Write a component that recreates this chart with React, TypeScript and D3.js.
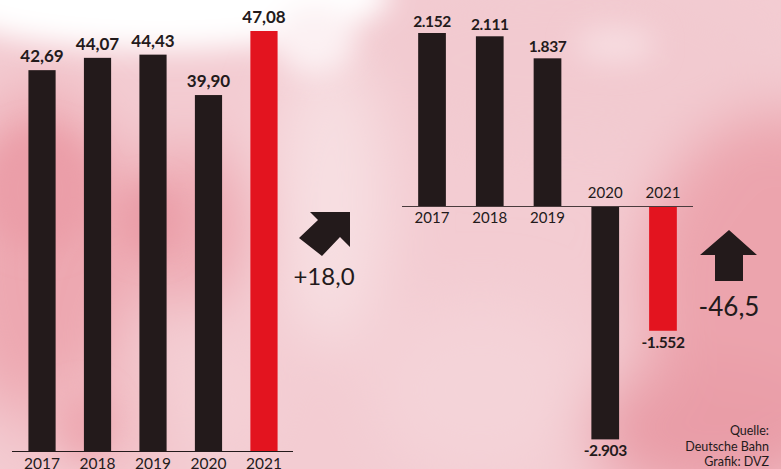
import React from "react";
import * as d3 from "d3";

const W = 781, H = 469;
const leftYears = ["2017", "2018", "2019", "2020", "2021"];
const leftValues = [42.69, 44.07, 44.43, 39.9, 47.08];
const leftLabels = ["42,69", "44,07", "44,43", "39,90", "47,08"];
const rightYears = ["2017", "2018", "2019", "2020", "2021"];
const rightValues = [2152, 2111, 1837, -2903, -1552];
const rightLabels = ["2.152", "2.111", "1.837", "-2.903", "-1.552"];
const leftChange = "+18,0";
const rightChange = "-46,5";
const sourceLines = ["Quelle:", "Deutsche Bahn", "Grafik: DVZ"];

const BLACK = "#231a1b";
const RED = "#e3141f";
const FONT = "Lato, 'Open Sans', sans-serif";

export default function App() {
  const lx = d3.scaleBand<string>().domain(leftYears).range([14, 292]).paddingInner(0.51).paddingOuter(0.26);
  const ly = d3.scaleLinear().domain([0, 47.08]).range([451, 31]);
  const rx = d3.scaleBand<string>().domain(rightYears).range([402, 693]).paddingInner(0.52).paddingOuter(0.28);
  const ry = d3.scaleLinear().domain([0, 2152]).range([206, 33]);

  return (
    <svg width={W} height={H} style={{ position: "absolute", left: 0, top: 0, display: "block" }}>
      <defs>
        <filter id="blur" x="-50%" y="-50%" width="200%" height="200%">
          <feGaussianBlur stdDeviation="30" />
        </filter>
        <filter id="blur2" x="-50%" y="-50%" width="200%" height="200%">
          <feGaussianBlur stdDeviation="14" />
        </filter>
      </defs>
      <rect x={0} y={0} width={W} height={H} fill="#f3ccd2" />
      <g filter="url(#blur)">
        <ellipse cx={560} cy={60} rx={220} ry={90} fill="#f2cad0" />
        <ellipse cx={780} cy={290} rx={140} ry={180} fill="#eca4ad" />
        <ellipse cx={710} cy={430} rx={120} ry={70} fill="#e99da7" />
        <ellipse cx={480} cy={390} rx={110} ry={90} fill="#f4d3d8" />
        <ellipse cx={40} cy={260} rx={90} ry={170} fill="#eda7b0" />
        <ellipse cx={185} cy={225} rx={70} ry={80} fill="#eeaab3" />
        <ellipse cx={330} cy={200} rx={55} ry={150} fill="#f7dfe2" />
        <ellipse cx={110} cy={420} rx={90} ry={50} fill="#f1bcc3" />
        <ellipse cx={210} cy={400} rx={60} ry={60} fill="#f4d0d5" />
      </g>
      <g filter="url(#blur2)">
        <ellipse cx={160} cy={-5} rx={230} ry={55} fill="#ffffff" />
        <ellipse cx={315} cy={40} rx={40} ry={35} fill="#fcf1f3" />
        <ellipse cx={40} cy={190} rx={55} ry={60} fill="#eb9ea8" />
        <ellipse cx={150} cy={220} rx={30} ry={35} fill="#ea9ea8" />
        <ellipse cx={615} cy={45} rx={40} ry={18} fill="#f7dde1" />
        <ellipse cx={85} cy={425} rx={28} ry={35} fill="#eeaab3" />
      </g>

      {/* left chart */}
      {leftValues.map((v, i) => (
        <rect key={"lb" + i} x={lx(leftYears[i])} y={ly(v)} width={lx.bandwidth()} height={ly(0) - ly(v)}
          fill={i === leftValues.length - 1 ? RED : BLACK} />
      ))}
      {leftValues.map((v, i) => (
        <text key={"ll" + i} x={(lx(leftYears[i]) as number) + lx.bandwidth() / 2} y={ly(v) - 8}
          textAnchor="middle" fontFamily={FONT} fontWeight={700} fontSize={17} fill={BLACK}>{leftLabels[i]}</text>
      ))}
      <line x1={12} x2={293} y1={ly(0) + 0.5} y2={ly(0) + 0.5} stroke={BLACK} strokeWidth={1.2} />
      {leftYears.map((y, i) => (
        <text key={"ly" + i} x={(lx(y) as number) + lx.bandwidth() / 2} y={468.5}
          textAnchor="middle" fontFamily={FONT} fontSize={15.5} fill={BLACK}>{y}</text>
      ))}

      {/* left arrow: diagonal up-right */}
      <polygon points="350,212 350,247 340,237 322,256 299,238 318,220 310,212" fill={BLACK} />
      <text x={324} y={285} textAnchor="middle" fontFamily={FONT} fontSize={24} fill={BLACK}>{leftChange}</text>

      {/* right chart */}
      {rightValues.map((v, i) => (
        <rect key={"rb" + i} x={rx(rightYears[i])} y={Math.min(ry(v), ry(0))} width={rx.bandwidth()}
          height={Math.abs(ry(0) - ry(v))} fill={i === rightValues.length - 1 ? RED : BLACK} />
      ))}
      <line x1={402} x2={693} y1={ry(0) + 0.5} y2={ry(0) + 0.5} stroke="#4a3b3d" strokeWidth={1} />
      {rightValues.map((v, i) => {
        const cx = (rx(rightYears[i]) as number) + rx.bandwidth() / 2;
        return (
          <g key={"rl" + i}>
            <text x={cx} y={v >= 0 ? ry(v) - 6 : ry(v) + 17} textAnchor="middle" fontFamily={FONT}
              fontWeight={700} fontSize={15.5} letterSpacing={-0.4} fill={BLACK}>{rightLabels[i]}</text>
            <text x={cx} y={v >= 0 ? ry(0) + 17 : ry(0) - 8} textAnchor="middle" fontFamily={FONT}
              fontSize={15} fill={BLACK}>{rightYears[i]}</text>
          </g>
        );
      })}

      {/* right arrow: up */}
      <polygon points="729,230 757,255 743,255 743,281 715,281 715,255 700,255" fill={BLACK} />
      <text x={729} y={316} textAnchor="middle" fontFamily={FONT} fontSize={26} fill={BLACK}>{rightChange}</text>

      {sourceLines.map((s, i) => (
        <text key={"s" + i} x={769} y={435 + i * 15.5} textAnchor="end" fontFamily={FONT} fontSize={12.5} fill={BLACK}>{s}</text>
      ))}
    </svg>
  );
}
